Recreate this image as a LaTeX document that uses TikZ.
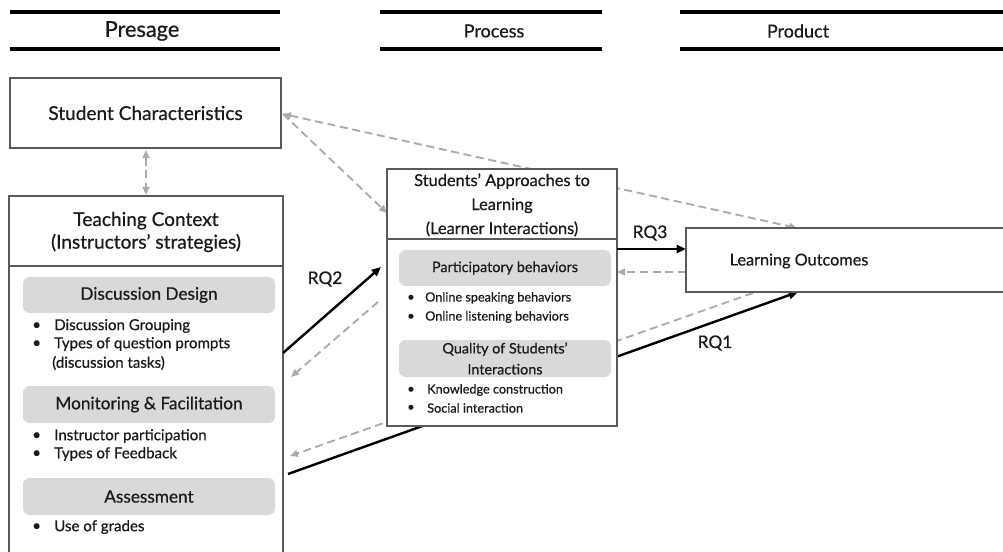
\documentclass[tikz,border=0pt]{standalone}
\usepackage{fontspec}
\setmainfont{Lato}[FakeBold=0.6]
\usetikzlibrary{arrows.meta,backgrounds}
\newdimen\pxu \pxu=0.75pt
\definecolor{boxline}{HTML}{5A5A5A}
\definecolor{grayfill}{HTML}{D9D9D9}
\definecolor{dashgray}{HTML}{ABABAB}
\definecolor{txt}{HTML}{1A1A1A}
\begin{document}
\begin{tikzpicture}[x=0.75pt,y=-0.75pt,
  every node/.style={text=txt},
  hdrline/.style={line width=2.6pt,black},
  hdrtext/.style={font=\fontsize{13.5}{15}\selectfont},
  mainbox/.style={draw=boxline,line width=0.8pt,fill=white,inner sep=0pt},
  titletext/.style={font=\fontsize{14.3}{17}\selectfont,align=center},
  graybox/.style={fill=grayfill,rounded corners=5pt,inner sep=0pt,font=\fontsize{12.9}{14.5}\selectfont,align=center},
  bullet/.style={anchor=west,inner sep=0pt,font=\fontsize{11.3}{13}\selectfont},
  sbullet/.style={bullet,font=\fontsize{9.5}{12}\selectfont},
  solidarrow/.style={line width=1.8pt,black,-{Triangle[length=7pt,width=6pt]}},
  dasharrow/.style={line width=1.4pt,dashgray,dash pattern=on 6pt off 3.5pt,-{Triangle[length=6pt,width=5pt]}},
  dashboth/.style={dasharrow,{Triangle[length=6pt,width=5pt]}-{Triangle[length=6pt,width=5pt]}},
  rqlabel/.style={font=\fontsize{13}{15}\selectfont,inner sep=0pt}
]
\useasboundingbox (0,0) rectangle (1003,552);

% headers
\draw[hdrline] (10,12) -- (280,12) (10,49) -- (280,49);
\node[hdrtext,font=\fontsize{16.3}{18}\selectfont] (hpresage) at (142,31) {Presage};
\draw[hdrline] (380,12) -- (602,12) (380,49) -- (602,49);
\node[hdrtext] (hprocess) at (494,31) {Process};
\draw[hdrline] (680,12) -- (1010,12) (680,49) -- (1010,49);
\node[hdrtext] (hproduct) at (798,31) {Product};

% Student characteristics
\node[mainbox,minimum width=271\pxu,minimum height=70\pxu,titletext] (sc) at (145.5,113) {Student Characteristics};

% Teaching context
\node[mainbox,minimum width=274\pxu,minimum height=374\pxu] (tc) at (146,383) {};
\draw[boxline,line width=0.8pt] (tc.west |- 0,266) -- (tc.east |- 0,266);
\node[titletext] (tch) at (146,232) {Teaching Context\\(Instructors' strategies)};
\node[graybox,minimum width=252\pxu,minimum height=36\pxu] (dd) at (149,295) {Discussion Design};
\node[bullet] at (32,326) {•}; \node[bullet] (b1) at (54,326) {Discussion Grouping};
\node[bullet] at (32,344) {•}; \node[bullet] (b2) at (54,344) {Types of question prompts};
\node[bullet] (b3) at (52,363) {(discussion tasks)};
\node[graybox,minimum width=252\pxu,minimum height=37\pxu] (mf) at (149,404.5) {Monitoring \& Facilitation};
\node[bullet] at (32,436) {•}; \node[bullet] (b4) at (54,436) {Instructor participation};
\node[bullet] at (32,454) {•}; \node[bullet] (b5) at (54,454) {Types of Feedback};
\node[graybox,minimum width=252\pxu,minimum height=37\pxu] (as) at (149,496.5) {Assessment};
\node[bullet] at (32,527) {•}; \node[bullet] (b6) at (54,527) {Use of grades};

% Students' approaches
\node[mainbox,minimum width=230\pxu,minimum height=257\pxu] (sal) at (502,297.5) {};
\draw[boxline,line width=0.8pt] (sal.west |- 0,239) -- (sal.east |- 0,239);
\node[titletext,font=\fontsize{12.3}{18}\selectfont] (salh) at (502,205) {Students' Approaches to\\Learning\\(Learner Interactions)};
\node[graybox,minimum width=212\pxu,minimum height=36\pxu,font=\fontsize{10.8}{13}\selectfont] (pb) at (505,268) {Participatory behaviors};
\node[sbullet] at (407,298) {•}; \node[sbullet] (b7) at (425,298) {Online speaking behaviors};
\node[sbullet] at (407,317) {•}; \node[sbullet] (b8) at (425,317) {Online listening behaviors};
\node[graybox,minimum width=212\pxu,minimum height=37\pxu,font=\fontsize{10.8}{15.75}\selectfont] (qs) at (505,358.5) {Quality of Students'\\Interactions};
\node[sbullet] at (407,390) {•}; \node[sbullet] (b9) at (427,390) {Knowledge construction};
\node[sbullet] at (407,408) {•}; \node[sbullet] (b10) at (427,408) {Social interaction};

% Learning outcomes
\node[mainbox,minimum width=330\pxu,minimum height=64\pxu] (lo) at (851,260) {};
\node[titletext,font=\fontsize{12.2}{15}\selectfont] (lot) at (799,261) {Learning Outcomes};

% coordinates
\coordinate (scS) at (146,150);
\coordinate (tcN) at (146,195);
\coordinate (scE) at (283,114);
\coordinate (salA) at (387,213);
\coordinate (loA) at (797,228);
\coordinate (tcR1) at (283,353);
\coordinate (salR2) at (381,267);
\coordinate (salD) at (378,302);
\coordinate (tcD) at (291,377);
\coordinate (salR3) at (617,249);
\coordinate (loR3) at (686,249);
\coordinate (loB) at (686,272);
\coordinate (salB) at (617,272);
\coordinate (tcR1s) at (288,474);
\coordinate (loR1) at (798,292);
\coordinate (loC) at (753,293);
\coordinate (tcC) at (290,456);

\begin{scope}[on background layer]
\fill[white] (0,0) rectangle (1003,552);
\draw[dashboth] (scS) -- (tcN);
\draw[dasharrow] (scE) -- (salA);
\draw[dashboth] (scE) -- (loA);
\draw[dasharrow] (salD) -- (tcD);
\draw[dasharrow] (loB) -- (salB);
\draw[dasharrow] (loC) -- (tcC);
\draw[solidarrow] (tcR1s) -- (loR1);
\end{scope}
\draw[solidarrow] (tcR1) -- (salR2);
\draw[solidarrow] (salR3) -- (loR3);
\node[rqlabel] (rq2) at (325,279) {RQ2};
\node[rqlabel] (rq3) at (650,233) {RQ3};
\node[rqlabel] (rq1) at (715,343) {RQ1};
\end{tikzpicture}
\end{document}
